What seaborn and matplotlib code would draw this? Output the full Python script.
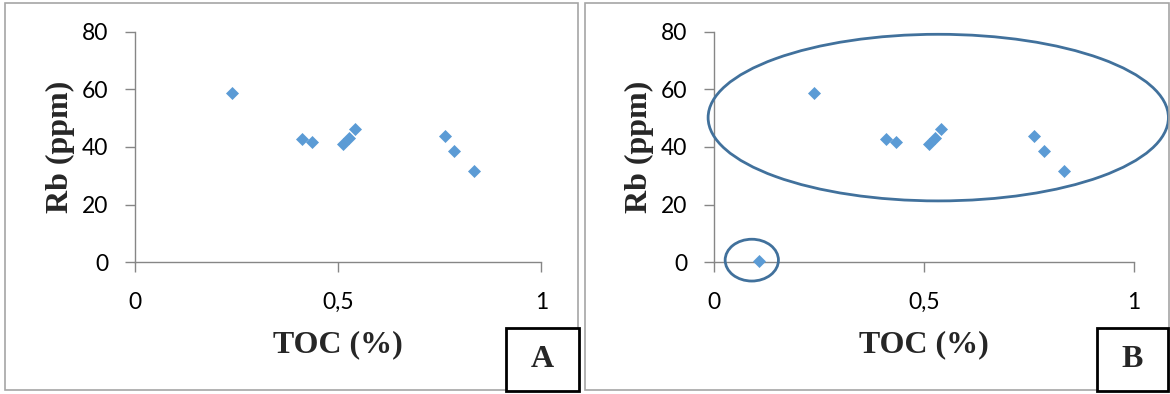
import matplotlib
matplotlib.use("Agg")
import matplotlib.pyplot as plt
from matplotlib.patches import Rectangle, Ellipse
import seaborn as sns
import pandas as pd

# Rb versus TOC samples
toc = [0.239, 0.410, 0.434, 0.511, 0.527, 0.541, 0.763, 0.785, 0.834]
rb = [58.8, 42.8, 41.8, 41.0, 43.0, 46.2, 43.8, 38.6, 31.7]

# extra low-TOC sample shown only in panel B
toc_extra = [0.107]
rb_extra = [0.5]

x_ticks = [0, 0.5, 1]
x_ticklabels = ["0", "0,5", "1"]
y_ticks = [0, 20, 40, 60, 80]

sns.set_theme(style="white")
plt.rcParams["font.family"] = ["Lato", "DejaVu Sans"]

W, H = 1170, 394
fig = plt.figure(figsize=(W / 100, H / 100), dpi=100)


def fx(px):
    return px / W


def fy(py):
    return 1 - py / H


def panel(left_px, right_px, df, letter, frame, box):
    ax = fig.add_axes([fx(left_px), fy(262.3), fx(right_px - left_px), (262.3 - 31.7) / H])
    sns.scatterplot(data=df, x="TOC", y="Rb", ax=ax, marker="D", color="#5B9BD5",
                    s=44, linewidth=0, clip_on=False, zorder=3)
    ax.set_xlim(0, 1)
    ax.set_ylim(0, 80)
    ax.set_xticks(x_ticks)
    ax.set_xticklabels(x_ticklabels)
    ax.set_yticks(y_ticks)
    for side in ("top", "right"):
        ax.spines[side].set_visible(False)
    for side in ("left", "bottom"):
        ax.spines[side].set_color("#868686")
        ax.spines[side].set_linewidth(1.0)
    ax.tick_params(axis="both", which="major", direction="out", length=7.5,
                   width=1.0, color="#868686", labelsize=16.5, labelcolor="black",
                   left=True, bottom=True)
    ax.tick_params(axis="y", pad=12)
    ax.tick_params(axis="x", pad=14)
    ax.set_xlabel("TOC (%)", family="Liberation Serif", fontweight="bold",
                  fontsize=23, labelpad=12)
    ax.set_ylabel("Rb (ppm)", family="Liberation Serif", fontweight="bold",
                  fontsize=23, labelpad=5)
    ax.patch.set_alpha(0)

    # outer frame around the panel
    fl, ft, fr, fb = frame
    fig.patches.append(Rectangle((fx(fl), fy(fb)), fx(fr - fl), (fb - ft) / H,
                                 transform=fig.transFigure, fill=False,
                                 edgecolor="#A6A6A6", linewidth=1.2, zorder=0))
    # letter box
    bl, bt, br, bb = box
    fig.patches.append(Rectangle((fx(bl), fy(bb)), fx(br - bl), (bb - bt) / H,
                                 transform=fig.transFigure, facecolor="white",
                                 edgecolor="black", linewidth=2, zorder=5))
    fig.text(fx((bl + br) / 2), fy((bt + bb) / 2), letter, ha="center", va="center",
             family="Liberation Serif", fontweight="bold", fontsize=23, zorder=6)
    return ax


df_a = pd.DataFrame({"TOC": toc, "Rb": rb})
df_b = pd.DataFrame({"TOC": toc_extra + toc, "Rb": rb_extra + rb})

ax_a = panel(135.3, 541.3, df_a, "A", (5, 3, 578, 390), (506, 328, 579, 391))
ax_b = panel(714.2, 1133.8, df_b, "B", (585, 3, 1169, 390), (1097, 328, 1168, 391))

# grouping outlines in panel B
ax_b.add_patch(Ellipse((0.534, 50.2), 1.097, 57.8, fill=False, edgecolor="#41719C",
                       linewidth=2, clip_on=False, zorder=4))
ax_b.add_patch(Ellipse((0.0896, 0.75), 0.127, 14.5, fill=False, edgecolor="#41719C",
                       linewidth=2, clip_on=False, zorder=4))

fig.savefig("out.png", dpi=100, facecolor="white")
